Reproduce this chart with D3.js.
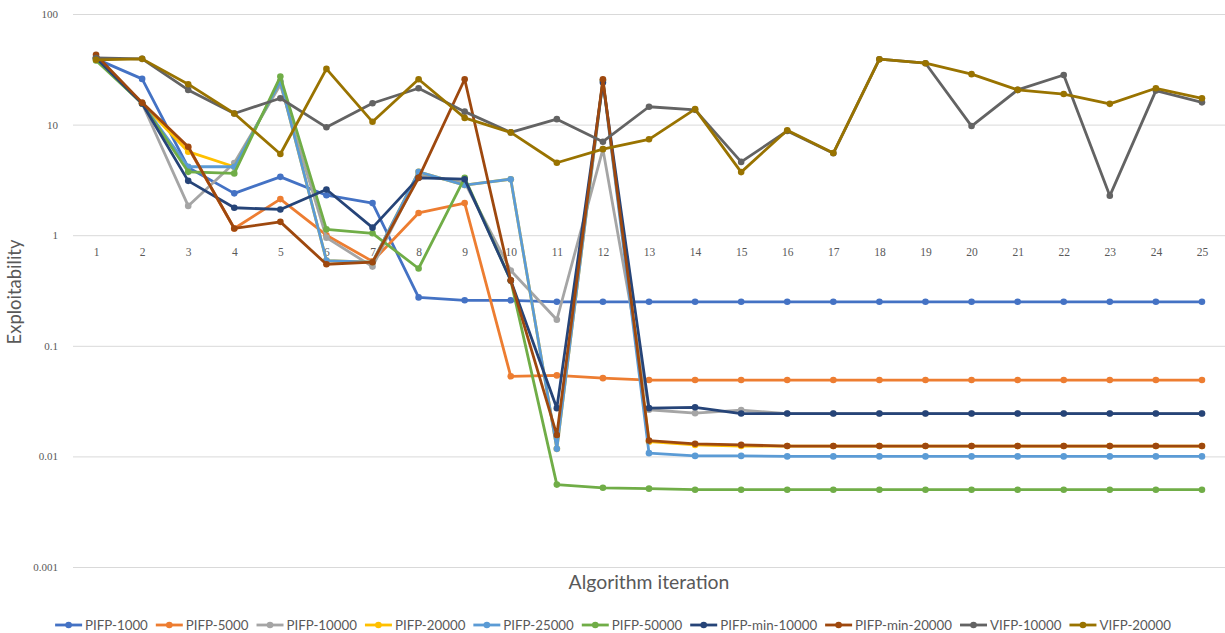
<!DOCTYPE html>
<html><head><meta charset="utf-8">
<script src="https://cdn.jsdelivr.net/npm/d3@7"></script>
<style>body{margin:0;background:#fff}svg{display:block}</style>
</head><body><svg id="c" width="1225" height="633"></svg>
<script>
const iterations = [1,2,3,4,5,6,7,8,9,10,11,12,13,14,15,16,17,18,19,20,21,22,23,24,25];
const yTickValues = [0.001, 0.01, 0.1, 1, 10, 100];
const yTickLabels = ["0.001", "0.01", "0.1", "1", "10", "100"];

const seriesNames = ["PIFP-1000","PIFP-5000","PIFP-10000","PIFP-20000","PIFP-25000","PIFP-50000","PIFP-min-10000","PIFP-min-20000","VIFP-10000","VIFP-20000"];
const seriesColors = ["#4472C4","#ED7D31","#A5A5A5","#FFC000","#5B9BD5","#70AD47","#264478","#9E480E","#636363","#997300"];

const pifp1000 = [39.3,25.9,4.1,2.39,3.37,2.3,1.95,0.274,0.258,0.258,0.25,0.25,0.25,0.25,0.25,0.25,0.25,0.25,0.25,0.25,0.25,0.25,0.25,0.25,0.25];
const pifp5000 = [40,15.5,6.2,1.15,2.12,1.0,0.58,1.59,1.95,0.053,0.054,0.051,0.049,0.049,0.049,0.049,0.049,0.049,0.049,0.049,0.049,0.049,0.049,0.049,0.049];
const pifp10000 = [40,15.5,1.84,4.49,22.9,0.95,0.52,3.5,3.0,0.48,0.172,6.0,0.0264,0.0246,0.0262,0.0244,0.0244,0.0244,0.0244,0.0244,0.0244,0.0244,0.0244,0.0244,0.0244];
const pifp20000 = [40,15.5,5.69,4.16,24.5,0.59,0.57,3.74,2.84,3.21,0.0117,25,0.0136,0.0127,0.0124,0.0124,0.0124,0.0124,0.0124,0.0124,0.0124,0.0124,0.0124,0.0124,0.0124];
const pifp25000 = [40,15.5,4.16,4.16,24.5,0.59,0.57,3.74,2.84,3.21,0.0117,25,0.0107,0.0101,0.0101,0.0100,0.0100,0.0100,0.0100,0.0100,0.0100,0.0100,0.0100,0.0100,0.0100];
const pifp50000 = [38,15.5,3.74,3.62,27.2,1.13,1.04,0.5,3.3,0.39,0.00556,0.0052,0.00511,0.0050,0.0050,0.0050,0.0050,0.0050,0.0050,0.0050,0.0050,0.0050,0.0050,0.0050,0.0050];
const pifpMin10000 = [40,15.5,3.1,1.77,1.71,2.59,1.17,3.3,3.21,0.39,0.0273,24,0.0273,0.0278,0.0244,0.0244,0.0244,0.0244,0.0244,0.0244,0.0244,0.0244,0.0244,0.0244,0.0244];
const pifpMin20000 = [42.7,15.8,6.3,1.15,1.32,0.546,0.57,3.3,25.7,0.391,0.0156,25.7,0.0139,0.0130,0.0127,0.0124,0.0124,0.0124,0.0124,0.0124,0.0124,0.0124,0.0124,0.0124,0.0124];
const vifp10000 = [40,39.3,20.6,12.6,17.3,9.45,15.6,21.3,13.1,8.5,11.2,7.0,14.5,13.6,4.6,8.75,5.5,39,35.9,9.7,20.6,28.1,2.27,20.3,15.9];
const vifp20000 = [38.5,39.3,23.2,12.6,5.42,31.9,10.6,25.7,11.5,8.5,4.52,6.0,7.36,13.8,3.72,8.9,5.53,39,35.9,28.6,20.6,18.9,15.4,21.3,17.3];

const seriesValues = [pifp1000,pifp5000,pifp10000,pifp20000,pifp25000,pifp50000,pifpMin10000,pifpMin20000,vifp10000,vifp20000];

const svg = d3.select("#c");
const L = 73, R = 1225, T = 14, B = 567;
const textColor = "#595959";
const sansFont = "Lato, 'Open Sans', sans-serif";
const serifFont = "'Liberation Serif', 'DejaVu Serif', serif";

const x = d3.scalePoint().domain(iterations).range([L, R]).padding(0.5);
const y = d3.scaleLog().domain([0.001, 100]).range([B, T]);

// Y axis with gridlines
const yAxis = svg.append("g").attr("transform", `translate(${L},0)`)
  .call(d3.axisLeft(y).tickValues(yTickValues)
    .tickFormat((d, i) => yTickLabels[i])
    .tickSize(-(R - L)).tickPadding(15));
yAxis.select(".domain").remove();
yAxis.selectAll("line").attr("stroke", "#d9d9d9").attr("stroke-width", 1);
yAxis.selectAll("text").attr("fill", textColor).attr("font-family", serifFont).attr("font-size", 11);

// X axis crossing at 1
const xAxis = svg.append("g").attr("transform", `translate(0,${y(1)})`)
  .call(d3.axisBottom(x).tickSize(0).tickPadding(13));
xAxis.select(".domain").remove();
xAxis.selectAll("text").attr("fill", textColor).attr("font-family", serifFont).attr("font-size", 11.5);

function fitWidth(sel, target) {
  const fs = +sel.attr("font-size");
  const w = sel.node().getComputedTextLength();
  sel.attr("font-size", fs * target / w);
}

// Axis titles
const yt = svg.append("text").attr("transform", "translate(21,292) rotate(-90)")
  .attr("text-anchor", "middle").attr("fill", textColor)
  .attr("font-family", sansFont).attr("font-size", 18).text("Exploitability");
fitWidth(yt, 105);
const xt = svg.append("text").attr("x", (L + R) / 2).attr("y", 589)
  .attr("text-anchor", "middle").attr("fill", textColor)
  .attr("font-family", sansFont).attr("font-size", 18).text("Algorithm iteration");
fitWidth(xt, 161);

// Series
const line = d3.line().x((v, i) => x(iterations[i])).y(v => y(v));
seriesValues.forEach((vals, si) => {
  const g = svg.append("g");
  g.append("path").datum(vals).attr("d", line)
    .attr("fill", "none").attr("stroke", seriesColors[si])
    .attr("stroke-width", 2.8).attr("stroke-linejoin", "round");
  g.selectAll("circle").data(vals).join("circle")
    .attr("cx", (v, i) => x(iterations[i])).attr("cy", v => y(v))
    .attr("r", 3.3).attr("fill", seriesColors[si]);
});

// Legend
const legY = 625, lineW = 27, gapLT = 3, gapItem = 8;
const leg = svg.append("g");
const items = seriesNames.map((n, i) => {
  const g = leg.append("g");
  g.append("line").attr("x1", 0).attr("x2", lineW).attr("y1", 0).attr("y2", 0)
    .attr("stroke", seriesColors[i]).attr("stroke-width", 2.8);
  g.append("circle").attr("cx", lineW / 2).attr("cy", 0).attr("r", 3.3).attr("fill", seriesColors[i]);
  const t = g.append("text").attr("x", lineW + gapLT).attr("y", 0).attr("dy", "0.35em")
    .attr("fill", textColor).attr("font-family", sansFont).attr("font-size", 14).text(n);
  return {g, t};
});
function layoutLegend() {
  let widths = items.map(it => it.t.node().getComputedTextLength());
  return widths;
}
let widths = layoutLegend();
const targetTotal = 1117;
const fixed = seriesNames.length * (lineW + gapLT) + (seriesNames.length - 1) * gapItem;
const textSum = d3.sum(widths);
const newFs = 14 * (targetTotal - fixed) / textSum;
items.forEach(it => it.t.attr("font-size", newFs));
widths = layoutLegend();
const total = fixed + d3.sum(widths);
let cx = 613 - total / 2;
items.forEach((it, i) => {
  it.g.attr("transform", `translate(${cx},${legY})`);
  cx += lineW + gapLT + widths[i] + gapItem;
});
</script></body></html>
